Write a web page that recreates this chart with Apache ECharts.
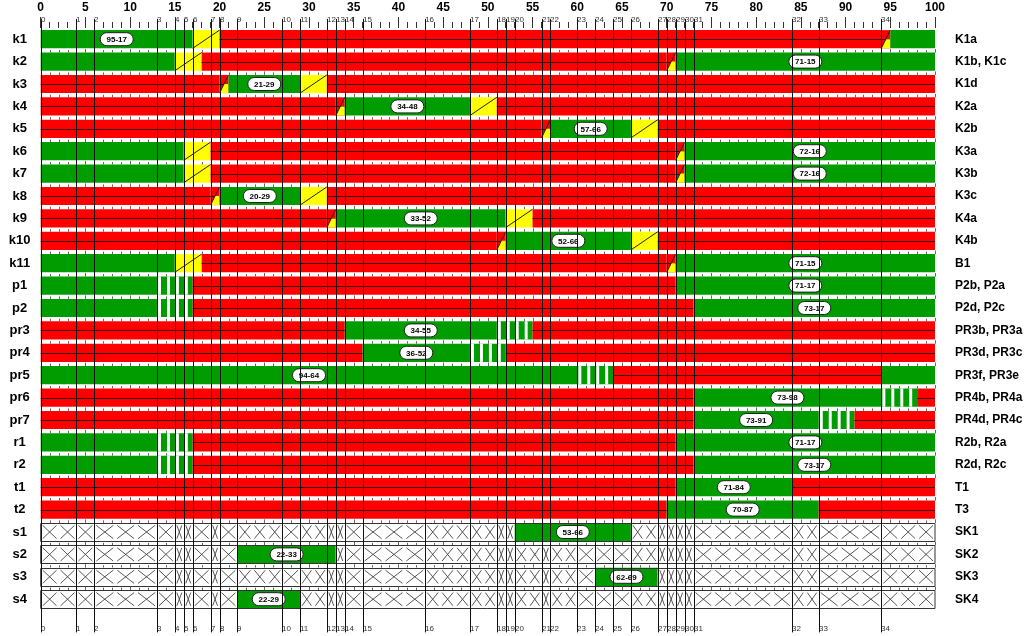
<!DOCTYPE html>
<html><head><meta charset="utf-8">
<script src="https://cdn.jsdelivr.net/npm/echarts/dist/echarts.min.js"></script>
<style>html,body{margin:0;padding:0;background:#fff}#c{width:1024px;height:636px}</style>
</head><body><div id="c"></div>
<script>
const rowNames = ['k1','k2','k3','k4','k5','k6','k7','k8','k9','k10','k11','p1','p2','pr3','pr4','pr5','pr6','pr7','r1','r2','t1','t2','s1','s2','s3','s4'];
const signalNames = ['K1a','K1b, K1c','K1d','K2a','K2b','K3a','K3b','K3c','K4a','K4b','B1','P2b, P2a','P2d, P2c','PR3b, PR3a','PR3d, PR3c','PR3f, PR3e','PR4b, PR4a','PR4d, PR4c','R2b, R2a','R2d, R2c','T1','T3','SK1','SK2','SK3','SK4'];
const greenLabels = ['95-17','71-15','21-29','34-48','57-66','72-16','72-16','20-29','33-52','52-66','71-15','71-17','73-17','34-55','36-52','94-64','73-98','73-91','71-17','73-17','71-84','70-87','53-66','22-33','62-69','22-29'];
// G green, Y amber, RY red+amber, R red, F flashing green, X no signal
const phases = [
 [[0,17,'G'],[17,20,'Y'],[20,94,'R'],[94,95,'RY'],[95,100,'G']],
 [[0,15,'G'],[15,18,'Y'],[18,70,'R'],[70,71,'RY'],[71,100,'G']],
 [[0,20,'R'],[20,21,'RY'],[21,29,'G'],[29,32,'Y'],[32,100,'R']],
 [[0,33,'R'],[33,34,'RY'],[34,48,'G'],[48,51,'Y'],[51,100,'R']],
 [[0,56,'R'],[56,57,'RY'],[57,66,'G'],[66,69,'Y'],[69,100,'R']],
 [[0,16,'G'],[16,19,'Y'],[19,71,'R'],[71,72,'RY'],[72,100,'G']],
 [[0,16,'G'],[16,19,'Y'],[19,71,'R'],[71,72,'RY'],[72,100,'G']],
 [[0,19,'R'],[19,20,'RY'],[20,29,'G'],[29,32,'Y'],[32,100,'R']],
 [[0,32,'R'],[32,33,'RY'],[33,52,'G'],[52,55,'Y'],[55,100,'R']],
 [[0,51,'R'],[51,52,'RY'],[52,66,'G'],[66,69,'Y'],[69,100,'R']],
 [[0,15,'G'],[15,18,'Y'],[18,70,'R'],[70,71,'RY'],[71,100,'G']],
 [[0,13,'G'],[13,17,'F'],[17,71,'R'],[71,100,'G']],
 [[0,13,'G'],[13,17,'F'],[17,73,'R'],[73,100,'G']],
 [[0,34,'R'],[34,51,'G'],[51,55,'F'],[55,100,'R']],
 [[0,36,'R'],[36,48,'G'],[48,52,'F'],[52,100,'R']],
 [[0,60,'G'],[60,64,'F'],[64,94,'R'],[94,100,'G']],
 [[0,73,'R'],[73,94,'G'],[94,98,'F'],[98,100,'R']],
 [[0,73,'R'],[73,87,'G'],[87,91,'F'],[91,100,'R']],
 [[0,13,'G'],[13,17,'F'],[17,71,'R'],[71,100,'G']],
 [[0,13,'G'],[13,17,'F'],[17,73,'R'],[73,100,'G']],
 [[0,71,'R'],[71,84,'G'],[84,100,'R']],
 [[0,70,'R'],[70,87,'G'],[87,100,'R']],
 [[0,53,'X'],[53,66,'G'],[66,100,'X']],
 [[0,22,'X'],[22,33,'G'],[33,100,'X']],
 [[0,62,'X'],[62,69,'G'],[69,100,'X']],
 [[0,22,'X'],[22,29,'G'],[29,100,'X']]
];
const eventTimes = [0,4,6,13,15,16,17,19,20,22,27,29,32,33,34,36,43,48,51,52,53,56,57,60,62,64,66,69,70,71,72,73,84,87,94];
const eventLabels = ['0','1','2','3','4','5','6','7','8','9','10','11','12','13','14','15','16','17','18','19','20','21','22','23','24','25','26','27','28','29','30','31','32','33','34'];

const FONT = '"Liberation Sans", Arial, sans-serif';
const GREEN = '#009c00', RED = '#ff0000', YELLOW = '#ffff00';

function renderRow(params, api) {
  const row = params.dataIndex;
  const segs = phases[row];
  const cy = api.coord([0, row])[1];
  const bandH = api.size([0, 1])[1];
  const top = cy - bandH / 2 + 2.1;
  const h = bandH - 4.2;
  const bot = top + h, mid = top + h / 2;
  const X = v => api.coord([v, row])[0];
  const ch = [];
  const isS = segs.some(s => s[2] === 'X');
  if (row > 0) {
    for (let u = 0; u <= 100; u++) {
      const x = Math.round(X(u)) + 0.5;
      ch.push({type:'line', shape:{x1:x, y1:top, x2:x, y2:top - (u % 5 === 0 ? 3.5 : 2.5)}, style:{stroke:'#666', lineWidth:1}});
    }
  }
  segs.forEach(s => {
    const a = s[0], b = s[1], k = s[2];
    const x0 = X(a), x1 = X(b);
    const w = x1 - x0;
    if (k === 'G' || k === 'F') {
      ch.push({type:'rect', shape:{x:x0, y:top, width:w, height:h}, style:{fill:GREEN}});
      if (k === 'F') {
        for (let u = a; u < b; u++) {
          const sx0 = X(u + 0.12), sx1 = X(u + 0.45);
          ch.push({type:'rect', shape:{x:sx0, y:top, width:sx1 - sx0, height:h}, style:{fill:'#fff'}});
        }
      }
    } else if (k === 'R' || k === 'RY') {
      ch.push({type:'rect', shape:{x:x0, y:top, width:w, height:h}, style:{fill:RED}});
      ch.push({type:'line', shape:{x1:x0, y1:Math.round(mid)+0.5, x2:x1, y2:Math.round(mid)+0.5}, style:{stroke:'#3a0000', lineWidth:1}});
      if (k === 'RY') {
        ch.push({type:'polygon', shape:{points:[[x0, bot],[x0 + w/2, mid],[x1, mid],[x1, bot]]}, style:{fill:YELLOW}});
        ch.push({type:'line', shape:{x1:x0, y1:bot, x2:x1, y2:top}, style:{stroke:'#222', lineWidth:1}});
      }
    } else if (k === 'Y') {
      ch.push({type:'rect', shape:{x:x0, y:top, width:w, height:h}, style:{fill:YELLOW}});
      ch.push({type:'line', shape:{x1:x0, y1:bot, x2:x1, y2:top}, style:{stroke:'#222', lineWidth:1}});
    } else if (k === 'X') {
      ch.push({type:'rect', shape:{x:x0, y:top, width:w, height:h}, style:{fill:'#fff'}});
      const cuts = [a].concat(eventTimes.filter(t => t > a && t < b), [b]);
      for (let i = 0; i < cuts.length - 1; i++) {
        const L = cuts[i+1] - cuts[i];
        const n = Math.max(1, Math.ceil(L / 2.4));
        const cw = L / n;
        for (let j = 0; j < n; j++) {
          const cx0 = X(cuts[i] + j * cw) + 2, cx1 = X(cuts[i] + (j + 1) * cw) - 2;
          ch.push({type:'line', shape:{x1:cx0, y1:top + 2.5, x2:cx1, y2:bot - 2.5}, style:{stroke:'#444', lineWidth:0.9}});
          ch.push({type:'line', shape:{x1:cx0, y1:bot - 2.5, x2:cx1, y2:top + 2.5}, style:{stroke:'#444', lineWidth:0.9}});
        }
      }
    }
  });
  if (isS) {
    ch.push({type:'rect', shape:{x:X(0), y:Math.round(top)+0.5, width:X(100) - X(0), height:Math.round(h)}, style:{fill:'none', stroke:'#333', lineWidth:1}});
  }
  let best = null;
  segs.forEach(s => { if (s[2] === 'G' && (!best || s[1] - s[0] > best[1] - best[0])) best = s; });
  if (best) {
    const cx = X((best[0] + best[1]) / 2);
    ch.push({type:'rect', shape:{x:cx - 16.5, y:mid - 6.5, width:33, height:13, r:6.5}, style:{fill:'#fff', stroke:'#222', lineWidth:1}});
    ch.push({type:'text', style:{text:greenLabels[row], x:cx, y:mid + 0.5, align:'center', verticalAlign:'middle', font:'bold 8px ' + FONT, fill:'#000'}});
  }
  return {type:'group', children:ch};
}

function renderEvent(params, api) {
  const i = params.dataIndex;
  const x = Math.round(api.coord([eventTimes[i], 0])[0]) + 0.5;
  const bandH = api.size([0, 1])[1];
  const gTop = api.coord([0, 0])[1] - bandH / 2;
  const gBot = api.coord([0, rowNames.length - 1])[1] + bandH / 2;
  return {type:'group', children:[
    {type:'line', shape:{x1:x, y1:gTop - 9, x2:x, y2:gBot + 22}, style:{stroke:'#111', lineWidth:1}},
    {type:'text', style:{text:eventLabels[i], x:x - 0.5, y:gTop - 8.5, align:'left', verticalAlign:'middle', font:'8px ' + FONT, fill:'#333'}},
    {type:'text', style:{text:eventLabels[i], x:x - 0.5, y:gBot + 18, align:'left', verticalAlign:'middle', font:'8px ' + FONT, fill:'#333'}}
  ]};
}

const chart = echarts.init(document.getElementById('c'), null, {renderer:'canvas'});
chart.setOption({
  animation:false,
  backgroundColor:'#fff',
  grid:{left:40.7, right:89, top:28, bottom:25.6, outerBoundsMode:'none', containLabel:false},
  xAxis:{type:'value', position:'top', min:0, max:100, interval:5,
    axisLine:{show:false}, splitLine:{show:false},
    axisTick:{show:true, length:11, lineStyle:{color:'#333'}},
    minorTick:{show:true, splitNumber:5, length:6, lineStyle:{color:'#333'}},
    axisLabel:{fontWeight:'bold', fontSize:12, color:'#000', margin:14, fontFamily:FONT}},
  yAxis:[
    {type:'category', data:rowNames, inverse:true, axisLine:{show:false}, axisTick:{show:false}, splitLine:{show:false},
     axisLabel:{interval:0, fontWeight:'bold', fontSize:13, color:'#000', align:'center', margin:21, fontFamily:FONT}},
    {type:'category', position:'right', data:signalNames, inverse:true, axisLine:{show:false}, axisTick:{show:false}, splitLine:{show:false},
     axisLabel:{interval:0, fontWeight:'bold', fontSize:12, color:'#000', align:'left', margin:20, fontFamily:FONT}}
  ],
  series:[
    {type:'custom', renderItem:renderRow, clip:false, xAxisIndex:0, yAxisIndex:0, encode:{x:0, y:1},
     data:phases.map((p, i) => [0, i]), z:2},
    {type:'custom', renderItem:renderEvent, clip:false, xAxisIndex:0, yAxisIndex:0, encode:{x:0, y:1},
     data:eventTimes.map(t => [t, 0]), z:3}
  ]
});
</script></body></html>
